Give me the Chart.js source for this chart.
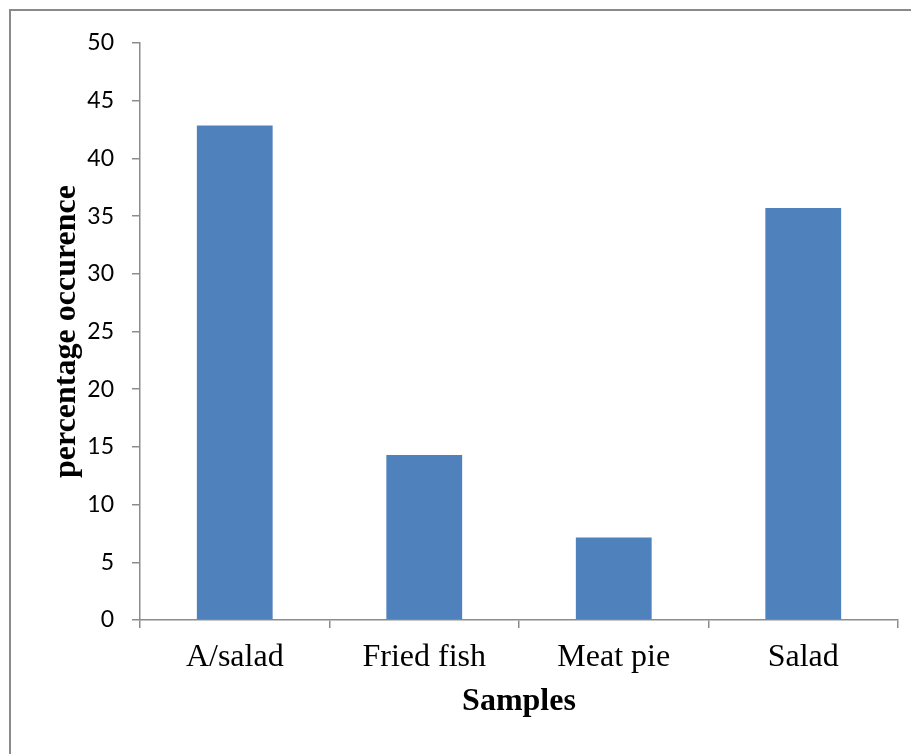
<!DOCTYPE html>
<html>
<head>
<meta charset="utf-8">
<script src="https://cdn.jsdelivr.net/npm/chart.js@4/dist/chart.umd.min.js"></script>
<style>
  html, body { margin: 0; padding: 0; background: #ffffff; }
  #wrap { width: 911px; height: 754px; position: relative; }
</style>
</head>
<body>
<div id="wrap"><canvas id="c" width="911" height="754"></canvas></div>
<script>
// Occurrence of isolates per food sample (%)
const categories = ['A/salad', 'Fried fish', 'Meat pie', 'Salad'];
const occurrence = [42.86, 14.29, 7.14, 35.71];
const yTicks = [0, 5, 10, 15, 20, 25, 30, 35, 40, 45, 50];

const AXIS_GREY = '#8c8c8c';
const SERIF = '"Liberation Serif", "Times New Roman", serif';

// thin grey frame around the figure
const framePlugin = {
  id: 'frame',
  beforeDraw(chart) {
    const ctx = chart.ctx;
    ctx.save();
    ctx.fillStyle = '#ffffff';
    ctx.fillRect(0, 0, chart.width, chart.height);
    ctx.strokeStyle = '#8a8a8a';
    ctx.lineWidth = 2;
    ctx.strokeRect(10, 10, 1200, 1200);
    ctx.restore();
  }
};

new Chart(document.getElementById('c'), {
  type: 'bar',
  data: {
    labels: categories,
    datasets: [{
      label: 'percentage occurence',
      data: occurrence,
      backgroundColor: '#4f81bd',
      borderWidth: 0,
      barPercentage: 0.4,
      categoryPercentage: 1.0
    }]
  },
  options: {
    responsive: false,
    animation: false,
    devicePixelRatio: 1,
    layout: { padding: { top: 43, right: 13, left: 0, bottom: 0 } },
    plugins: {
      legend: { display: false },
      tooltip: { enabled: false }
    },
    scales: {
      x: {
        afterFit(scale) { scale.height = 134; },
        grid: {
          display: true,
          offset: true,
          drawOnChartArea: false,
          drawTicks: true,
          tickLength: 8,
          color: AXIS_GREY,
          lineWidth: 1.5
        },
        border: { display: true, color: AXIS_GREY, width: 1.5 },
        ticks: {
          color: '#000000',
          padding: 10,
          maxRotation: 0,
          font: { family: SERIF, size: 32 }
        },
        title: {
          display: true,
          text: 'Samples',
          color: '#000000',
          padding: { top: 0, bottom: 33 },
          font: { family: SERIF, size: 32, weight: 'bold' }
        }
      },
      y: {
        min: 0,
        max: 50,
        afterFit(scale) { scale.width = 140; },
        afterBuildTicks(scale) { scale.ticks = yTicks.map(v => ({ value: v })); },
        grid: {
          display: true,
          drawOnChartArea: false,
          drawTicks: true,
          tickLength: 8,
          color: AXIS_GREY,
          lineWidth: 1.5
        },
        border: { display: true, color: AXIS_GREY, width: 1.5 },
        ticks: {
          color: '#000000',
          padding: 18,
          font: { family: 'Lato, "Open Sans", sans-serif', size: 23 }
        },
        title: {
          display: true,
          text: 'percentage occurence',
          color: '#000000',
          padding: { top: 48, bottom: 0 },
          font: { family: SERIF, size: 32, weight: 'bold' }
        }
      }
    }
  },
  plugins: [framePlugin]
});
</script>
</body>
</html>
